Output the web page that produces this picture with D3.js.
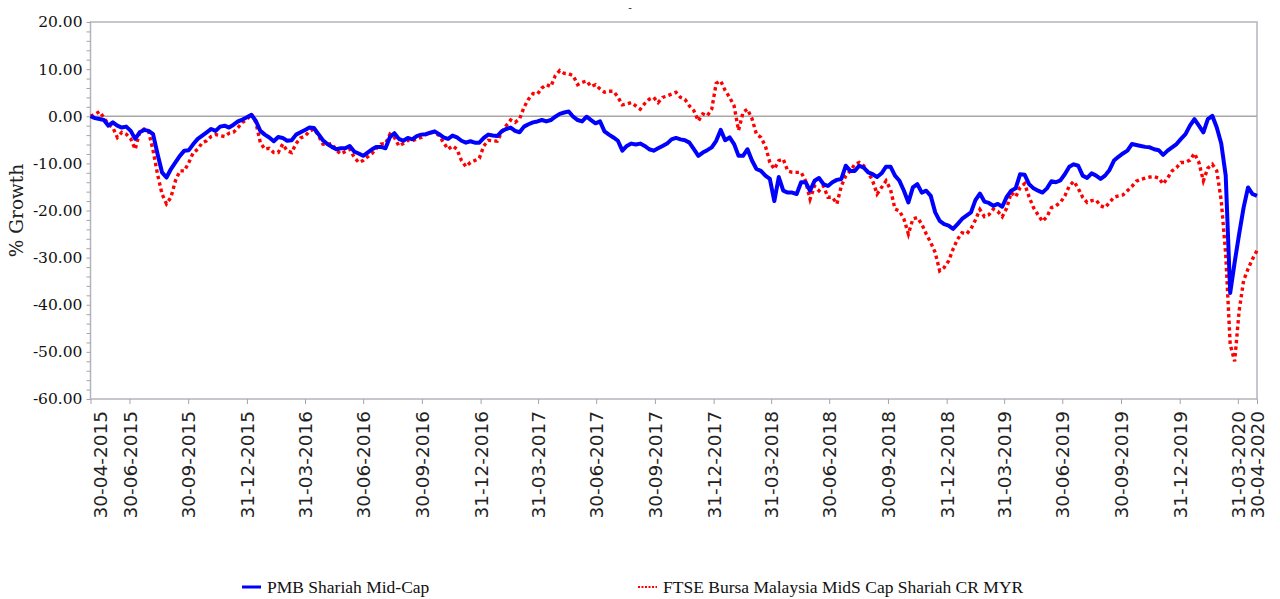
<!DOCTYPE html>
<html>
<head>
<meta charset="utf-8">
<script src="https://cdn.jsdelivr.net/npm/d3@7"></script>
<style>
  body { margin: 0; background: #fff; }
  svg { display: block; }
  .y-axis text { font-family: "DejaVu Serif", serif; font-size: 15.5px; fill: #111; }
  .x-axis text { font-family: "DejaVu Sans", sans-serif; font-size: 18.5px; fill: #222; }
  .axis line { stroke: #a4a4ac; }
  .legend text { font-family: "Liberation Serif", serif; font-size: 17.5px; fill: #111; }
</style>
</head>
<body>
<div class="container"></div>
<script>
// weekly observations, first one on 30-04-2015, last one on 30-04-2020
const startDate = "30-04-2015";
const stepDays = 7;

const fundValues = [
  0, -0.4, -0.6, -0.8, -2.0, -1.3, -2.0, -2.4, -2.2, -3.1,
  -4.8, -3.4, -2.9, -3.1, -3.8, -8.0, -11.9, -13.0, -11.2, -9.8,
  -8.4, -7.3, -7.2, -5.9, -4.8, -4.1, -3.4, -2.7, -3.1, -2.2,
  -2.0, -2.4, -1.8, -1.1, -0.7, -0.2, 0.3, -1.0, -3.1, -3.9,
  -4.5, -5.3, -4.4, -4.6, -5.2, -5.1, -3.9, -3.4, -2.9, -2.4,
  -2.5, -3.8, -5.1, -5.9, -6.5, -7.0, -6.8, -6.8, -6.3, -7.5,
  -7.9, -8.4, -7.7, -7.0, -6.5, -6.5, -6.8, -4.4, -3.6, -4.8,
  -5.2, -4.6, -4.9, -4.2, -3.9, -3.8, -3.5, -3.2, -3.8, -4.5,
  -4.8, -4.1, -4.5, -5.2, -5.6, -5.3, -5.6, -5.6, -4.6, -3.9,
  -4.1, -4.2, -3.2, -2.7, -2.4, -3.1, -3.4, -2.2, -1.7, -1.3,
  -1.1, -0.8, -1.1, -0.8, -0.1, 0.5, 0.8, 1.0, -0.1, -0.8,
  -1.1, -0.1, -0.8, -1.5, -1.1, -3.2, -3.9, -4.5, -5.2, -7.3,
  -6.3, -5.8, -6.0, -5.8, -6.3, -7.0, -7.3, -6.8, -6.3, -5.8,
  -4.9, -4.6, -4.9, -5.1, -5.6, -7.0, -8.4, -7.7, -7.2, -6.6,
  -5.2, -2.9, -5.1, -4.5, -5.9, -8.4, -8.4, -7.0, -9.4, -11.2,
  -11.6, -12.6, -13.3, -18.0, -12.9, -15.8, -16.2, -16.2, -16.5, -14.0,
  -14.0, -15.8, -13.7, -13.1, -14.4, -14.8, -14.0, -13.5, -13.3, -10.5,
  -11.6, -11.6, -10.5, -10.9, -11.9, -12.3, -12.9, -12.1, -10.7, -10.7,
  -12.6, -13.7, -15.8, -18.3, -15.1, -14.4, -16.2, -15.8, -16.9, -20.4,
  -22.2, -22.9, -23.2, -23.9, -22.9, -21.8, -21.1, -20.4, -17.8, -16.4,
  -18.1, -18.4, -19.0, -18.6, -19.2, -17.1, -15.8, -15.3, -12.3, -12.4,
  -14.4, -15.3, -15.8, -16.2, -15.3, -13.8, -14.0, -13.6, -12.3, -10.7,
  -10.2, -10.5, -12.6, -13.1, -12.1, -12.6, -13.3, -12.6, -11.4, -9.4,
  -8.6, -7.9, -7.3, -5.9, -6.1, -6.3, -6.5, -6.6, -7.0, -7.2,
  -8.2, -7.3, -6.6, -5.9, -4.8, -3.8, -2.0, -0.6, -2.0, -3.4,
  -0.6, 0.1, -2.4, -5.8, -12.6, -37.5, -31.0, -25.0, -19.4, -15.1,
  -16.5, -16.9
];

const indexValues = [
  0, 0.4, 1.0, -0.3, -1.7, -2.4, -4.5, -3.4, -3.8, -4.8,
  -7.0, -3.4, -2.7, -3.2, -7.3, -12.3, -16.5, -18.6, -17.2, -13.7,
  -11.6, -11.6, -9.8, -7.7, -7.0, -5.6, -5.2, -4.3, -3.9, -4.1,
  -4.3, -3.6, -3.4, -2.4, -1.3, -0.7, 0.5, -1.3, -5.6, -7.0,
  -6.8, -7.7, -7.7, -5.9, -7.3, -7.7, -5.8, -4.6, -4.2, -3.2,
  -2.7, -4.1, -5.9, -6.0, -5.8, -7.2, -8.0, -7.5, -7.0, -8.7,
  -9.8, -9.4, -8.6, -7.9, -6.8, -5.9, -5.8, -3.8, -4.5, -6.3,
  -5.8, -5.1, -5.2, -4.8, -4.5, -3.9, -3.5, -3.4, -4.1, -5.6,
  -7.0, -6.3, -7.0, -9.4, -10.7, -9.8, -9.4, -8.9, -6.3, -5.1,
  -5.2, -5.3, -3.4, -2.0, -0.8, -1.3, -0.6, 1.9, 3.6, 4.8,
  4.7, 6.0, 6.7, 6.3, 8.6, 9.7, 9.1, 9.0, 8.6, 6.7,
  7.2, 7.5, 6.3, 6.7, 5.8, 5.1, 5.3, 5.3, 4.1, 2.4,
  2.6, 2.9, 2.2, 1.5, 2.7, 3.6, 4.0, 2.9, 4.0, 4.3,
  4.7, 5.1, 4.0, 3.6, 2.2, 1.2, -1.0, 0.5, 0.1, 1.5,
  7.0, 7.5, 5.5, 4.0, 2.2, -3.0, 0.8, 1.5, -0.5, -3.8,
  -4.5, -6.3, -9.8, -11.2, -9.4, -9.1, -11.6, -11.9, -11.9, -11.9,
  -13.7, -17.6, -14.8, -15.8, -14.8, -17.2, -17.2, -18.6, -14.8, -12.6,
  -11.6, -10.2, -9.8, -10.5, -11.9, -13.7, -16.5, -15.1, -13.7, -15.5,
  -19.7, -20.1, -21.8, -25.0, -21.8, -21.5, -22.9, -25.0, -26.8, -28.9,
  -32.8, -32.1, -30.7, -28.2, -26.1, -24.7, -25.0, -23.9, -22.0, -19.8,
  -21.3, -20.9, -19.7, -20.2, -21.3, -19.5, -16.2, -17.1, -15.1, -14.3,
  -17.1, -19.4, -20.9, -22.3, -21.3, -19.4, -19.0, -18.3, -16.9, -14.8,
  -13.8, -15.3, -17.2, -18.3, -17.9, -17.8, -19.0, -19.4, -18.3, -17.2,
  -16.9, -16.7, -15.8, -14.9, -13.8, -13.4, -13.1, -12.9, -12.8, -13.1,
  -14.4, -13.1, -11.6, -10.9, -9.8, -9.8, -9.3, -7.9, -9.8, -13.7,
  -11.0, -10.2, -11.6, -17.9, -29.3, -48.4, -52.0, -41.3, -34.9, -32.4,
  -30.3, -28.5
];

const xTickLabels = [
  "30-04-2015", "30-06-2015", "30-09-2015", "31-12-2015", "31-03-2016",
  "30-06-2016", "30-09-2016", "31-12-2016", "31-03-2017", "30-06-2017",
  "30-09-2017", "31-12-2017", "31-03-2018", "30-06-2018", "30-09-2018",
  "31-12-2018", "31-03-2019", "30-06-2019", "30-09-2019", "31-12-2019",
  "31-03-2020", "30-04-2020"
];

const yTicks = [20, 10, 0, -10, -20, -30, -40, -50, -60];
const seriesNames = ["PMB Shariah Mid-Cap", "FTSE Bursa Malaysia MidS Cap Shariah CR MYR"];

const parseDate = d3.utcParse("%d-%m-%Y");
const t0 = parseDate(startDate);
const dates = fundValues.map((d, i) => d3.utcDay.offset(t0, i * stepDays));

const fund = fundValues.map((v, i) => ({ date: dates[i], value: v }));
const index = indexValues.map((v, i) => ({ date: dates[i], value: v }));

const width = 1280;
const height = 599;
const plot = { left: 90.5, top: 22, right: 1257, bottom: 399 };

const svg = d3.select(".container")
  .append("svg")
  .attr("width", width)
  .attr("height", height);

const xScale = d3.scaleUtc()
  .domain([t0, parseDate(xTickLabels[xTickLabels.length - 1])])
  .range([plot.left, plot.right]);

const yScale = d3.scaleLinear()
  .domain([-60, 20])
  .range([plot.bottom, plot.top]);

// frame of the plot area
svg.append("rect")
  .attr("x", plot.left)
  .attr("y", plot.top)
  .attr("width", plot.right - plot.left)
  .attr("height", plot.bottom - plot.top)
  .attr("fill", "none")
  .attr("stroke", "#b4b4bc")
  .attr("stroke-width", 1.5);

/* Y axis, minor ticks every 2 */
svg.append("g")
  .attr("class", "axis y-axis")
  .attr("transform", `translate(${plot.left},0)`)
  .call(d3.axisLeft(yScale)
    .tickValues(d3.range(-60, 20.1, 2))
    .tickSize(4)
    .tickPadding(4)
    .tickFormat(d => yTicks.includes(d) ? d.toFixed(2) : ""))
  .call(g => g.select(".domain").remove());

/* X axis */
svg.append("g")
  .attr("class", "axis x-axis")
  .attr("transform", `translate(0,${plot.bottom})`)
  .call(d3.axisBottom(xScale)
    .tickValues(xTickLabels.map(parseDate))
    .tickSize(5)
    .tickFormat(d3.utcFormat("%d-%m-%Y")))
  .call(g => g.select(".domain").remove())
  .call(g => g.selectAll("text")
    .attr("transform", "rotate(-90)")
    .attr("text-anchor", "end")
    .attr("x", -12)
    .attr("y", (d, i) => i === 0 ? 9 : 0)
    .attr("dy", "0.36em"));

// zero line
svg.append("line")
  .attr("x1", plot.left)
  .attr("x2", plot.right)
  .attr("y1", yScale(0))
  .attr("y2", yScale(0))
  .attr("stroke", "#a8a8a8")
  .attr("stroke-width", 1.5);

const line = d3.line()
  .x(d => xScale(d.date))
  .y(d => yScale(d.value));

svg.append("path")
  .datum(index)
  .attr("fill", "none")
  .attr("stroke", "#ff0000")
  .attr("stroke-width", 3.4)
  .attr("stroke-dasharray", "3.4,3.2")
  .attr("d", line);

svg.append("path")
  .datum(fund)
  .attr("fill", "none")
  .attr("stroke", "#0000ff")
  .attr("stroke-width", 4)
  .attr("stroke-linejoin", "round")
  .attr("d", line);

// y title
svg.append("text")
  .attr("transform", `translate(23,${(plot.top + plot.bottom) / 2}) rotate(-90)`)
  .attr("text-anchor", "middle")
  .style("font-family", "'DejaVu Serif', serif")
  .style("font-size", "18.5px")
  .attr("fill", "#222")
  .text("% Growth");

// the chart title is a single dash
svg.append("text")
  .attr("x", 630)
  .attr("y", 11)
  .attr("text-anchor", "middle")
  .style("font-family", "'Liberation Sans', sans-serif")
  .style("font-size", "11px")
  .attr("fill", "#333")
  .text("-");

/* legend */
const legend = svg.append("g").attr("class", "legend");
const legendItems = [
  { x: 242, color: "#0000ff", dash: null, w: 3 },
  { x: 638, color: "#ff0000", dash: "2,1.5", w: 2 }
];
legendItems.forEach((it, i) => {
  legend.append("line")
    .attr("x1", it.x)
    .attr("x2", it.x + 19)
    .attr("y1", 587)
    .attr("y2", 587)
    .attr("stroke", it.color)
    .attr("stroke-width", it.w)
    .attr("stroke-dasharray", it.dash);
  legend.append("text")
    .attr("x", it.x + 25)
    .attr("y", 593)
    .text(seriesNames[i]);
});
</script>
</body>
</html>
